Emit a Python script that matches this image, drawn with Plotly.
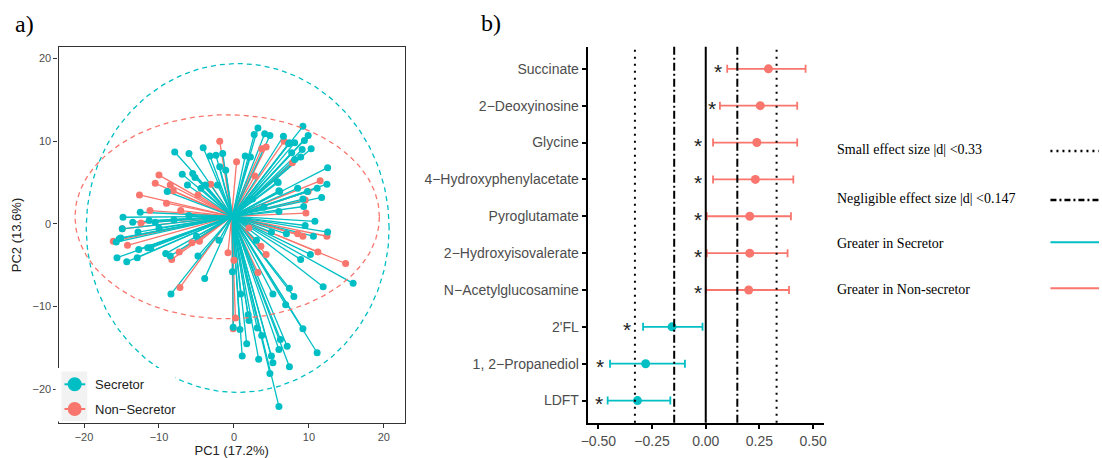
import numpy as np
import plotly.graph_objects as go

TEAL = "#00BFC4"
RED = "#F8766D"
SANS = "Liberation Sans, Arial, sans-serif"
SERIF = "Liberation Serif, Times New Roman, serif"

# ---------------- Panel a) PCA biplot data ----------------
sec_pc1 = [9.2, 3.2, 2.7, 4.1, 4.8, 6.6, 9.9, 9.4, 8.1, 7.3, 10.3, 9.1, 7.7, 8.9, 8.1,
           -7.9, -6.0, -4.1, -3.2, -2.4, -1.5, -1.9, -1.1, 1.5, 2.2, -6.9, -5.5, -5.2,
           -6.2, -3.8, -2.2, -8.9, 12.5, 12.4, 11.1, 11.7, 8.5, 9.8, 5.9, 6.1, 9.2, 9.3,
           10.8, -14.8, -12.5, -11.3, -4.4, 7.4, 5.8, 6.0,
           -15.6, -14.3, -12.9, -15.1, -15.7, -12.7, -11.1, -9.1, -8.5, -4.8, -3.9, -8.4,
           12.5, 10.6, 10.2, 8.9, 11.9, 15.9, 7.4, 8.0, 5.2, 6.9, 9.2, 11.1, 7.4, 7.1,
           6.0, 6.2, 5.0, 5.2, 4.8, 6.0, 3.3, 3.7, 3.1, 1.1, 1.7, 0.8, 2.0, 1.9, 0.9,
           -0.1, -0.2, 9.5, -14.9, -15.3, -11.5, -12.8, -10.5, -8.0, -6.0, 2.5, 4.0,
           -2.0, 3.0, 5.0, 6.0, 7.0, -5.0, -13.5, -10.0]
sec_pc2 = [11.8, 11.6, 10.8, 10.9, 10.7, 10.6, 10.7, 10.1, 9.8, 9.7, 9.1, 9.0, 8.6, 8.1, 7.8,
           8.7, 8.5, 9.2, 8.2, 8.3, 8.5, 6.9, 6.5, 8.2, 8.1, 6.0, 6.1, 5.6,
           4.7, 4.7, 4.7, 3.9, 6.8, 4.8, 4.3, 3.2, 4.3, 3.9, 5.0, 3.9, 3.0, 2.1,
           0.3, 0.8, 1.4, 0.4, 4.3, 9.8, 5.1, 4.0,
           -4.1, -4.6, -4.1, -1.7, -2.2, -3.1, -2.9, -3.6, -3.9, -3.9, -6.6, -8.5,
           -1.0, -1.5, -3.7, -4.3, -7.6, -7.2, -7.8, -8.8, -8.5, -9.8, -12.7, -15.6, -17.3, -14.8,
           -15.2, -14.0, -16.0, -16.8, -18.1, -22.1, -16.4, -13.5, -12.6, -16.0, -14.5, -12.8, -11.7, -11.0, -8.5,
           -12.5, -5.8, -0.2, -0.6, -1.8, -2.9, -1.0, 0.2, 0.5, 1.0, 3.0, 2.0,
           -2.0, -2.0, -1.0, 1.5, -1.2, -1.5, 0.2, -0.5]

non_pc1 = [-1.9, 0.35, 4.3, 3.7, 6.7, 7.8, -10.0, -10.5, -8.5, -8.1, -12.6, -9.0, -7.1,
           -3.1, -4.8, 11.5, 9.9, 9.5, 9.6, 2.8, -11.2, -12.4,
           -16.1, -14.2, -7.3, -8.3, -7.2, -5.6, -4.6, -0.8, 0.0, 3.6, 4.3, 3.2, 14.9,
           11.2, 12.4, 9.2, 8.5, -0.1, 0.2, -14.9, 2.0]
non_pc2 = [10.0, 7.5, 9.3, 9.1, 10.0, 7.4, 5.9, 4.9, 4.7, 4.0, 3.5, 2.5, 1.6,
           4.8, 3.5, 5.2, 3.9, 2.9, 1.3, 5.8, 1.6, 0.1,
           -2.1, -2.6, -3.4, -4.3, -7.7, -2.3, -2.1, -3.5, -4.4, -2.7, -3.7, -5.9, -4.8,
           -3.4, -1.5, -1.5, -1.2, -12.7, -11.4, -0.6, -0.5]

sec_centroid = [-0.2, 0.9]
non_centroid = [-0.3, 0.9]
# ellipse: centre x, centre y, semi-axis x, semi-axis y
sec_ellipse = [0.5, -0.5, 20.2, 19.9]
non_ellipse = [-0.9, 0.85, 20.3, 12.35]

# ---------------- Panel b) effect sizes ----------------
metabolites = ["Succinate", "2\u2212Deoxyinosine", "Glycine", "4\u2212Hydroxyphenylacetate",
               "Pyroglutamate", "2\u2212Hydroxyisovalerate", "N\u2212Acetylglucosamine",
               "2'FL", "1, 2\u2212Propanediol", "LDFT"]
effect = [0.292, 0.254, 0.238, 0.231, 0.205, 0.205, 0.200, -0.157, -0.280, -0.318]
ci_low = [0.100, 0.066, 0.034, 0.034, 0.005, 0.005, 0.000, -0.292, -0.446, -0.457]
ci_high = [0.465, 0.426, 0.426, 0.408, 0.397, 0.381, 0.388, -0.015, -0.097, -0.165]
star_x = [0.057, 0.028, -0.038, -0.034, -0.034, -0.035, -0.038, -0.369, -0.492, -0.497]
small_thr = 0.33
negl_thr = 0.147

fig = go.Figure()


def rays(px, py, c):
    xs, ys = [], []
    for a, b in zip(px, py):
        xs += [c[0], a, None]
        ys += [c[1], b, None]
    return xs, ys


def ellipse(p):
    t = np.linspace(0, 2 * np.pi, 240)
    return p[0] + p[2] * np.cos(t), p[1] + p[3] * np.sin(t)


for px, py, c, col in [(non_pc1, non_pc2, non_centroid, RED), (sec_pc1, sec_pc2, sec_centroid, TEAL)]:
    rx, ry = rays(px, py, c)
    fig.add_trace(go.Scatter(x=rx, y=ry, mode="lines", line=dict(color=col, width=1.3),
                             showlegend=False, hoverinfo="skip", xaxis="x", yaxis="y"))
for px, py, col in [(non_pc1, non_pc2, RED), (sec_pc1, sec_pc2, TEAL)]:
    fig.add_trace(go.Scatter(x=px, y=py, mode="markers", marker=dict(color=col, size=7),
                             showlegend=False, xaxis="x", yaxis="y"))
for p, col in [(sec_ellipse, TEAL), (non_ellipse, RED)]:
    ex, ey = ellipse(p)
    fig.add_trace(go.Scatter(x=ex, y=ey, mode="lines", line=dict(color=col, width=1.3, dash="5px,4px"),
                             showlegend=False, hoverinfo="skip", xaxis="x", yaxis="y"))

# effect size panel
for sign, col in [(1, RED), (-1, TEAL)]:
    idx = [i for i, e in enumerate(effect) if (e > 0) == (sign > 0)]
    fig.add_trace(go.Scatter(
        x=[effect[i] for i in idx], y=[metabolites[i] for i in idx], mode="markers",
        marker=dict(color=col, size=9),
        error_x=dict(type="data", symmetric=False,
                     array=[ci_high[i] - effect[i] for i in idx],
                     arrayminus=[effect[i] - ci_low[i] for i in idx],
                     color=col, thickness=1.8, width=4),
        showlegend=False, xaxis="x2", yaxis="y2"))

shapes = []
for xv, dash, w in [(0, "solid", 2), (-small_thr, "2px,5px", 2), (small_thr, "2px,5px", 2),
                    (-negl_thr, "8px,3px,2px,3px", 2), (negl_thr, "8px,3px,2px,3px", 2)]:
    shapes.append(dict(type="line", xref="x2", yref="y2 domain", x0=xv, x1=xv, y0=0, y1=1,
                       line=dict(color="black", width=w, dash=dash), layer="above"))

annotations = []
for sx, m in zip(star_x, metabolites):
    annotations.append(dict(x=sx, y=m, xref="x2", yref="y2", text="*", showarrow=False,
                            font=dict(family=SANS, size=21, color="#222"), yshift=-3))

W, H = 1102, 458


def px_x(v):
    return v / W


def px_y(v):
    return 1 - v / H


# left panel manual legend
shapes.append(dict(type="rect", xref="paper", yref="paper", x0=px_x(49), x1=px_x(170),
                   y0=px_y(421.5), y1=px_y(368), fillcolor="white", line=dict(width=0), layer="above"))
shapes.append(dict(type="rect", xref="paper", yref="paper", x0=px_x(55), x1=px_x(81),
                   y0=px_y(421), y1=px_y(371.5), fillcolor="#F2F2F2", line=dict(width=0), layer="above"))
for yy, col, lab in [(384.3, TEAL, "Secretor"), (409, RED, "Non\u2212Secretor")]:
    shapes.append(dict(type="line", xref="paper", yref="paper", x0=px_x(58), x1=px_x(79),
                       y0=px_y(yy), y1=px_y(yy), line=dict(color=col, width=2), layer="above"))
    shapes.append(dict(type="circle", xref="paper", yref="paper", xsizemode="pixel", ysizemode="pixel",
                       xanchor=px_x(68.3), yanchor=px_y(yy), x0=-7, x1=7, y0=-7, y1=7,
                       fillcolor=col, line=dict(color=col, width=0), layer="above"))
    annotations.append(dict(x=px_x(87), y=px_y(yy), xref="paper", yref="paper", text=lab,
                            showarrow=False, xanchor="left", yanchor="middle",
                            font=dict(family=SANS, size=13, color="#222")))

# right legend
leg_items = [(149.5, "Small effect size |d| <0.33", "dot"),
             (199, "Negligible effect size |d| <0.147", "dashdot"),
             (243.3, "Greater in Secretor", TEAL),
             (289.3, "Greater in Non-secretor", RED)]
for yy, lab, kind in leg_items:
    annotations.append(dict(x=px_x(836), y=px_y(yy), xref="paper", yref="paper", text=lab,
                            showarrow=False, xanchor="left", yanchor="middle",
                            font=dict(family=SERIF, size=14, color="black")))
    if kind == "dot":
        ln = dict(color="black", width=2.5, dash="2px,4px")
        ly = yy + 1.5
    elif kind == "dashdot":
        ln = dict(color="black", width=2.5, dash="6px,3px,2px,3px")
        ly = yy + 1
    else:
        ln = dict(color=kind, width=2)
        ly = yy - 1
    shapes.append(dict(type="line", xref="paper", yref="paper", x0=px_x(1053), x1=1.0,
                       y0=px_y(ly), y1=px_y(ly), line=ln, layer="above"))

annotations.append(dict(x=px_x(6), y=px_y(24), xref="paper", yref="paper", text="a)",
                        showarrow=False, xanchor="left", yanchor="middle",
                        font=dict(family=SERIF, size=24, color="black")))
annotations.append(dict(x=px_x(476), y=px_y(23), xref="paper", yref="paper", text="b)",
                        showarrow=False, xanchor="left", yanchor="middle",
                        font=dict(family=SERIF, size=24, color="black")))

tickfont_a = dict(family=SANS, size=11, color="#4D4D4D")
tickfont_b = dict(family=SANS, size=14, color="#4D4D4D")

fig.update_layout(
    width=W, height=H, margin=dict(l=0, r=0, t=0, b=0),
    paper_bgcolor="white", plot_bgcolor="white", showlegend=False,
    shapes=shapes, annotations=annotations,
    xaxis=dict(domain=[52 / W, 401.5 / W], range=[-23.4, 22.8], tickvals=[-20, -10, 0, 10, 20],
               showline=True, mirror=True, linecolor="#333333", linewidth=1.2,
               ticks="outside", ticklen=4, tickcolor="#333333", showgrid=False, zeroline=False,
               tickfont=tickfont_a, anchor="y",
               title=dict(text="PC1 (17.2%)", font=dict(family=SANS, size=13, color="#222"), standoff=4)),
    yaxis=dict(domain=[1 - 423 / H, 1 - 47 / H], range=[-24.1, 21.4], tickvals=[-20, -10, 0, 10, 20],
               showline=True, mirror=True, linecolor="#333333", linewidth=1.2,
               ticks="outside", ticklen=4, tickcolor="#333333", showgrid=False, zeroline=False,
               tickfont=tickfont_a, anchor="x",
               title=dict(text="PC2 (13.6%)", font=dict(family=SANS, size=13, color="#222"), standoff=8)),
    xaxis2=dict(domain=[586 / W, 824.3 / W], range=[-0.55, 0.55],
                tickvals=[-0.5, -0.25, 0, 0.25, 0.5],
                ticktext=["\u22120.50", "\u22120.25", "0.00", "0.25", "0.50"],
                showline=True, linecolor="black", linewidth=2, ticks="outside", ticklen=4,
                tickcolor="black", tickwidth=1.5, showgrid=False, zeroline=False,
                tickfont=tickfont_b, anchor="y2"),
    yaxis2=dict(domain=[1 - 422.7 / H, 1 - 46.7 / H], type="category",
                categoryorder="array", categoryarray=metabolites[::-1], range=[-0.6, 9.6],
                showline=True, linecolor="black", linewidth=2, ticks="outside", ticklen=4,
                tickcolor="black", tickwidth=1.5, showgrid=False, zeroline=False,
                tickfont=tickfont_b, anchor="x2"),
)

fig.write_html("out.html")
